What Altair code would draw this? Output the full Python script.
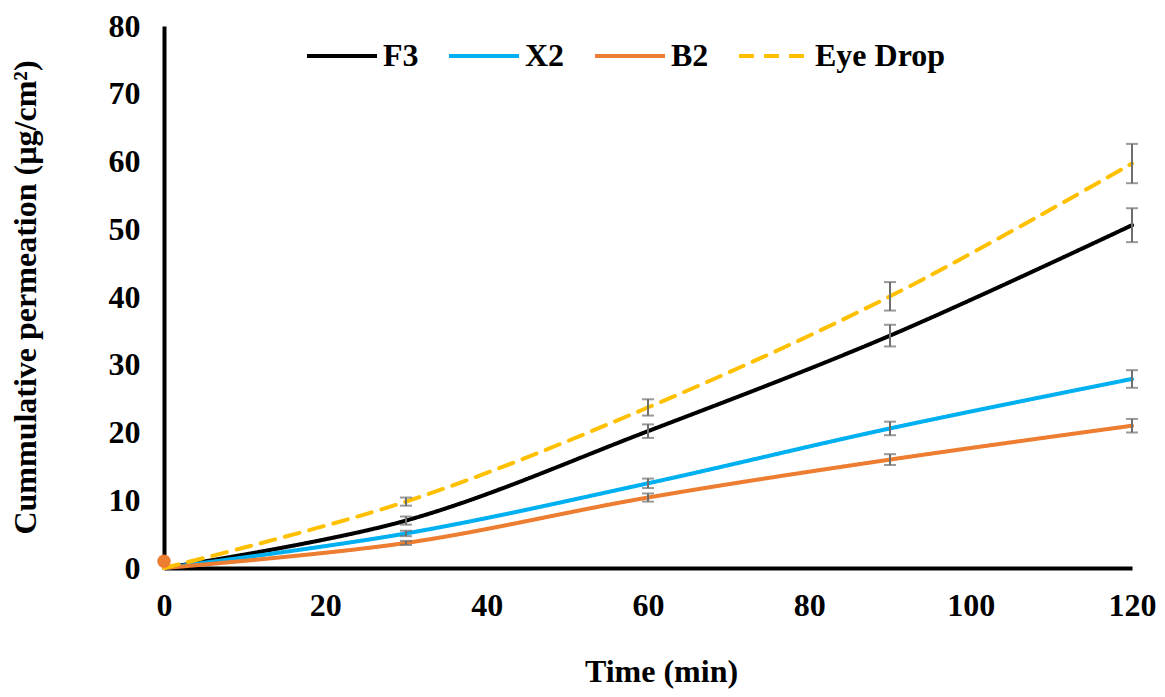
import altair as alt
import pandas as pd

# ---- data ----
time = [0, 30, 60, 90, 120]
series_names = ["F3", "X2", "B2", "Eye Drop"]
f3 = [0, 7.0, 20.2, 34.3, 50.6]
x2 = [0, 5.1, 12.5, 20.6, 27.9]
b2 = [0, 3.7, 10.4, 16.0, 21.0]
eye = [0, 9.8, 23.7, 40.1, 59.7]
f3_err = [0, 0.6, 1.0, 1.6, 2.5]
x2_err = [0, 0.4, 0.7, 1.0, 1.3]
b2_err = [0, 0.3, 0.6, 0.8, 1.0]
eye_err = [0, 0.6, 1.2, 2.1, 2.9]
colors = ["#000000", "#00B0F0", "#ED7D31", "#FFC000"]
dashes = [[1, 0], [1, 0], [1, 0], [15, 10]]
marker_x = [0]
marker_y = [1.0]

vals = [f3, x2, b2, eye]
errs = [f3_err, x2_err, b2_err, eye_err]
rows = []
for name, v, e in zip(series_names, vals, errs):
    for t, y, err in zip(time, v, e):
        rows.append({"time": t, "value": y, "lo": y - err, "hi": y + err,
                     "err": err, "series": name})
df = pd.DataFrame(rows)
df_err = df[df["err"] > 0]
df_mark = pd.DataFrame({"time": marker_x, "value": marker_y})

FONT = "Liberation Serif"
FS = 32

xscale = alt.Scale(domain=[0, 120], nice=False)
yscale = alt.Scale(domain=[0, 80], nice=False)

xaxis = alt.Axis(title="Time (min)", values=[0, 20, 40, 60, 80, 100, 120],
                 grid=False, ticks=False, domainWidth=4, domainColor="black",
                 labelFlush=False, labelOverlap=False,
                 labelFont=FONT, labelFontSize=FS, labelFontWeight="bold",
                 labelColor="black", labelPadding=22,
                 titleFont=FONT, titleFontSize=FS, titleFontWeight="bold",
                 titleColor="black", titleX=497, titleY=113,
                 titleBaseline="alphabetic")
yaxis = alt.Axis(title="Cummulative permeation (µg/cm²)",
                 values=[0, 10, 20, 30, 40, 50, 60, 70, 80],
                 grid=False, ticks=False, domainWidth=4, domainColor="black",
                 labelFlush=False, labelOverlap=False,
                 labelFont=FONT, labelFontSize=FS, labelFontWeight="bold",
                 labelColor="black", labelPadding=24,
                 titleFont=FONT, titleFontSize=FS, titleFontWeight="bold",
                 titleColor="black", titlePadding=66)

lines = alt.Chart(df).mark_line(strokeWidth=4, interpolate="catmull-rom",
                                strokeCap="round").encode(
    x=alt.X("time:Q", scale=xscale, axis=xaxis),
    y=alt.Y("value:Q", scale=yscale, axis=yaxis),
    color=alt.Color("series:N", sort=series_names,
                    scale=alt.Scale(domain=series_names, range=colors),
                    legend=alt.Legend(title=None, orient="none", direction="horizontal",
                                      legendX=141, legendY=-7,
                                      symbolType="stroke", symbolSize=4900,
                                      symbolStrokeWidth=4, labelOffset=4,
                                      columnPadding=22, padding=0,
                                      labelFont=FONT, labelFontSize=FS,
                                      labelFontWeight="bold", labelColor="black",
                                      labelLimit=300)),
    strokeDash=alt.StrokeDash("series:N", sort=series_names,
                              scale=alt.Scale(domain=series_names, range=dashes),
                              legend=None),
    detail="series:N",
)

ERRC = "#6E6E6E"
rules = alt.Chart(df_err).mark_rule(color=ERRC, strokeWidth=2).encode(
    x="time:Q", y="lo:Q", y2="hi:Q")
caps_lo = alt.Chart(df_err).mark_tick(color=ERRC, thickness=2, size=12,
                                      orient="horizontal").encode(x="time:Q", y="lo:Q")
caps_hi = alt.Chart(df_err).mark_tick(color=ERRC, thickness=2, size=12,
                                      orient="horizontal").encode(x="time:Q", y="hi:Q")
marker = alt.Chart(df_mark).mark_point(filled=True, color="#ED7D31", size=180,
                                       opacity=1).encode(x="time:Q", y="value:Q")

chart = alt.layer(lines, rules, caps_lo, caps_hi, marker).properties(
    width=968, height=542,
    autosize=alt.AutoSizeParams(type="none"),
    padding={"left": 156, "top": 18, "right": 25, "bottom": 121},
).configure_view(stroke=None)

chart.save("out.html", embed_options={"renderer": "svg", "actions": False})
